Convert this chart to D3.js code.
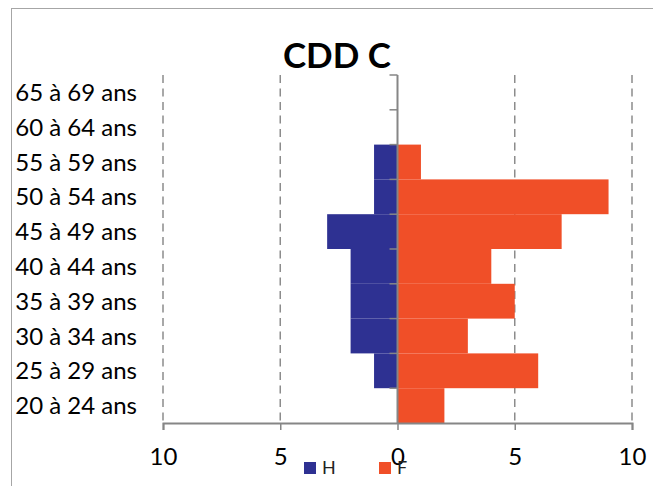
<!DOCTYPE html>
<html>
<head>
<meta charset="utf-8">
<script src="https://cdn.jsdelivr.net/npm/d3@7"></script>
<style>
    html, body { margin: 0; padding: 0; background: #fff; }
    svg { display: block; font-family: Lato, "Open Sans", sans-serif; }
</style>
</head>
<body>
<svg id="chart" width="653" height="486"></svg>
<script>
// Chart data (top to bottom)
const categories = ['65 à 69 ans', '60 à 64 ans', '55 à 59 ans', '50 à 54 ans', '45 à 49 ans',
    '40 à 44 ans', '35 à 39 ans', '30 à 34 ans', '25 à 29 ans', '20 à 24 ans'];
const hommes = [0, 0, 1, 1, 3, 2, 2, 2, 1, 0];
const femmes = [0, 0, 1, 9, 7, 4, 5, 3, 6, 2];
const xTicks = [-10, -5, 0, 5, 10];
const seriesNames = ['H', 'F'];
const colors = { H: '#2e3192', F: '#f04f28' };

const svg = d3.select('#chart');

// Outer frame (cut by the picture on right and bottom)
svg.append('rect')
    .attr('x', 11.5).attr('y', 8.5)
    .attr('width', 700).attr('height', 600)
    .attr('fill', 'none')
    .attr('stroke', '#a6a6a6')
    .attr('stroke-width', 1);

// Scales
const x = d3.scaleLinear().domain([-10, 10]).range([163, 632]);
const y = d3.scaleBand().domain(categories).range([75, 423]).padding(0);

// Dashed gridlines
svg.append('g')
    .selectAll('line')
    .data(xTicks.filter(d => d !== 0))
    .enter().append('line')
    .attr('x1', d => x(d)).attr('x2', d => x(d))
    .attr('y1', 75).attr('y2', 423)
    .attr('stroke', '#8c8c8c')
    .attr('stroke-width', 1.5)
    .attr('stroke-dasharray', '8,5.5');

// Bars
const rows = categories.map((c, i) => ({ cat: c, H: hommes[i], F: femmes[i] }));
const bars = svg.append('g');
bars.selectAll('rect.h')
    .data(rows)
    .enter().append('rect')
    .attr('class', 'h')
    .attr('x', d => x(-d.H))
    .attr('y', d => y(d.cat))
    .attr('width', d => x(0) - x(-d.H))
    .attr('height', y.bandwidth())
    .attr('fill', colors.H);
bars.selectAll('rect.f')
    .data(rows)
    .enter().append('rect')
    .attr('class', 'f')
    .attr('x', x(0))
    .attr('y', d => y(d.cat))
    .attr('width', d => x(d.F) - x(0))
    .attr('height', y.bandwidth())
    .attr('fill', colors.F);

// Vertical category axis at zero
const axisColor = '#868686';
const vAxis = svg.append('g');
vAxis.append('line')
    .attr('x1', x(0)).attr('x2', x(0))
    .attr('y1', y.range()[0]).attr('y2', y.range()[1])
    .attr('stroke', axisColor).attr('stroke-width', 2);
vAxis.selectAll('line.tick')
    .data(categories)
    .enter().append('line')
    .attr('class', 'tick')
    .attr('x1', x(0) - 8).attr('x2', x(0))
    .attr('y1', d => y(d)).attr('y2', d => y(d))
    .attr('stroke', axisColor).attr('stroke-width', 1.5);

// Category labels
svg.append('g')
    .selectAll('text')
    .data(categories)
    .enter().append('text')
    .attr('x', 137)
    .attr('y', d => y(d) + y.bandwidth() / 2)
    .attr('dy', '0.36em')
    .attr('text-anchor', 'end')
    .style('font-size', '24px')
    .style('fill', '#000')
    .text(d => d);

// Bottom value axis
const xAxis = svg.append('g')
    .attr('transform', 'translate(0,423)')
    .call(d3.axisBottom(x)
        .tickValues(xTicks)
        .tickFormat(d => Math.abs(d))
        .tickSize(7)
        .tickPadding(18));
xAxis.select('.domain').attr('stroke', axisColor).attr('stroke-width', 2);
xAxis.selectAll('.tick line').attr('stroke', axisColor).attr('stroke-width', 1.5);
xAxis.selectAll('.tick text')
    .style('font-size', '24px')
    .style('font-family', 'Lato, sans-serif')
    .attr('fill', '#000');

// Title
svg.append('text')
    .attr('x', 337)
    .attr('y', 68)
    .attr('text-anchor', 'middle')
    .style('font-size', '35px')
    .style('font-weight', 'bold')
    .text('CDD C');

// Legend
const legend = svg.append('g')
    .selectAll('g')
    .data(seriesNames)
    .enter().append('g')
    .attr('transform', (d, i) => `translate(${304 + i * 75},462)`);
legend.append('rect')
    .attr('width', 12).attr('height', 12)
    .attr('fill', d => colors[d]);
legend.append('text')
    .attr('x', 18).attr('y', 12)
    .style('font-size', '18px')
    .style('fill', '#222')
    .text(d => d);
</script>
</body>
</html>
